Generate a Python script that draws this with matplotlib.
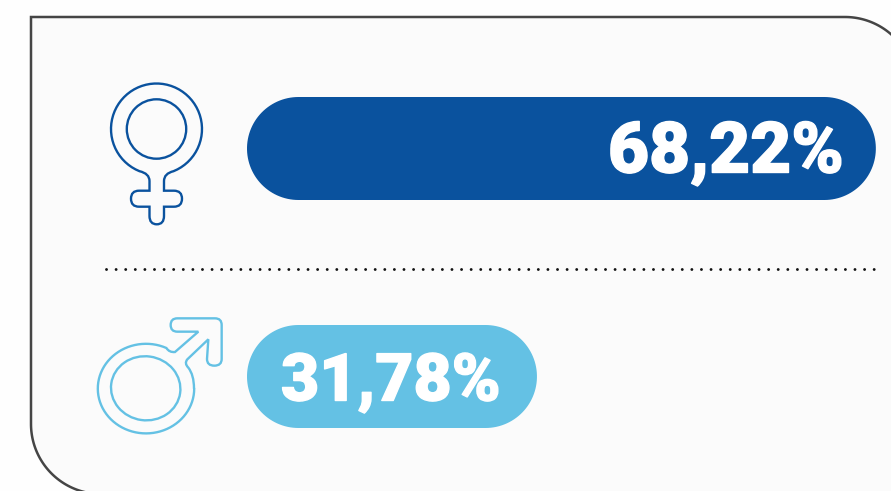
import numpy as np
import matplotlib
matplotlib.use("Agg")
import matplotlib.pyplot as plt
import matplotlib.patheffects as pe
from matplotlib.path import Path
from matplotlib.patches import PathPatch, Ellipse

categories = ["Femmes", "Hommes"]
values = [68.22, 31.78]
labels = ["68,22%", "31,78%"]
colors = ["#0A529E", "#64C1E4"]

W, H = 891, 491
S = 9.30      # px per percent
X0 = 241.4    # px of value 0
fig = plt.figure(figsize=(W / 100, H / 100), dpi=100, facecolor="#FEFEFE")
ax = fig.add_axes([0, 0, 1, 1])
ax.set_xlim(-X0 / S, (W - X0) / S)
ax.set_ylim(H, 0)
ax.axis("off")

# pixel-space overlay for decoration
px = fig.add_axes([0, 0, 1, 1], zorder=-1)
px.set_xlim(0, W); px.set_ylim(H, 0); px.axis("off")


def arc(cx, cy, rx, ry, a0, a1, n=60):
    t = np.radians(np.linspace(a0, a1, n))
    return list(zip(cx + rx * np.cos(t), cy + ry * np.sin(t)))


def build(seq):
    """seq of ('L',pts) or ('Q',ctrl,end)"""
    v, c = [], []
    for s in seq:
        if s[0] == "L":
            for p in s[1]:
                c.append(Path.LINETO if v else Path.MOVETO)
                v.append(p)
        else:
            v += [s[1], s[2]]; c += [Path.CURVE3, Path.CURVE3]
    v.append(v[0]); c.append(Path.CLOSEPOLY)
    return Path(v, c)


# panel
R = 70
L, T, RR, B = 31, 17, 915, 494
panel = build([
    ("L", [(L, T), (RR - R, T)]),
    ("L", arc(RR - R, T + R, R, R, -90, 0)),
    ("L", [(RR, B)]),
    ("L", [(L + R, B)]),
    ("L", arc(L + R, B - R, R, R, 90, 180)),
])
px.add_patch(PathPatch(panel, fc="#FBFBFB", ec="#454545", lw=1.8, joinstyle="miter"))

# bars: stadium shapes, length from the value scale
bar_left = (247 - X0) / S
bar_y = [97, 325]
bar_h = 103
for v, y, col in zip(values, bar_y, colors):
    r_x, r_y = bar_h / 2 / S, bar_h / 2
    cy_ = y + r_y
    stadium = build([
        ("L", arc(v - r_x, cy_, r_x, r_y, -90, 90)),
        ("L", arc(bar_left + r_x, cy_, r_x, r_y, 90, 270)),
    ])
    ax.add_patch(PathPatch(stadium, fc=col, ec="none"))

# labels
FONT = dict(family="Roboto", fontweight=900, color="white",
            path_effects=[pe.withStroke(linewidth=1.0, foreground="white")])
ax.text((844 - X0) / S, 172.5, labels[0], ha="right", va="baseline", fontsize=51, **FONT)
ax.text((281 - X0) / S, 400.5, labels[1], ha="left", va="baseline", fontsize=47.5, **FONT)

# divider
px.plot([106, 877], [269, 269], color="#111111", lw=2.1,
        linestyle=(0, (0.01, 3.28)), dash_capstyle="round")

ICON_LW = 1.7
# female icon
col = colors[0]
cx, cy = 156.5, 129
f = build([
    ("L", arc(cx, cy, 45.5, 45.5, 112, 428)),
    ("Q", (164, 173.5), (164, 181)),
    ("L", [(164, 190.7), (174, 190.7)]),
    ("Q", (182, 190.7), (182, 198.7)),
    ("Q", (182, 206.7), (174, 206.7)),
    ("L", [(164, 206.7), (164, 216)]),
    ("Q", (164, 224.3), (156.8, 224.3)),
    ("Q", (149.5, 224.3), (149.5, 216)),
    ("L", [(149.5, 206.7), (139, 206.7)]),
    ("Q", (131, 206.7), (131, 198.7)),
    ("Q", (131, 190.7), (139, 190.7)),
    ("L", [(149.5, 190.7), (149.5, 181)]),
    ("Q", (149.5, 173.5), (139.5, 171.2)),
])
px.add_patch(PathPatch(f, fc="none", ec=col, lw=ICON_LW))
px.add_patch(plt.Circle((cx, cy), 29.7, fc="none", ec=col, lw=ICON_LW))

# male icon
col = colors[1]
def z(x, y):
    return (80 + x / 3, 300 + y / 3)
mx, my = 146, 388.6
seq = [
    ("L", [z(285, 156), z(355, 95), z(292, 95)]),
    ("Q", z(272, 95), z(272, 75)),
    ("Q", z(272, 55), z(292, 55)),
    ("L", [z(405, 55)]),
    ("Q", z(425, 55), z(425, 75)),
    ("L", [z(425, 177)]),
    ("Q", z(425, 197), z(403, 197)),
    ("Q", z(381, 197), z(381, 177)),
    ("L", [z(385, 118), z(322, 178)]),
    ("Q", z(312, 190), z(325, 203)),
    ("Q", z(342, 225), z(342, 265)),
    ("L", arc(mx, my, 48.2, 44.8, 0, 295, n=70)),
    ("Q", z(268, 158), z(285, 156)),
]
m = build(seq)
px.add_patch(PathPatch(m, fc="none", ec=col, lw=ICON_LW))
px.add_patch(Ellipse((145.7, 388.3), 69.5, 64, angle=8, fc="none", ec=col, lw=ICON_LW))

fig.savefig("out.png", dpi=100, facecolor=fig.get_facecolor())
